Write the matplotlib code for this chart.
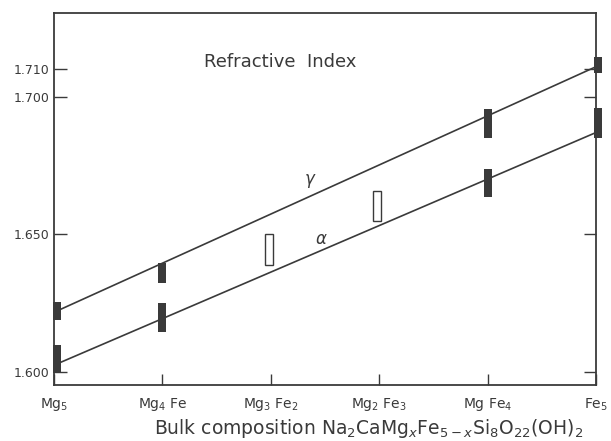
import matplotlib
matplotlib.use("Agg")
import matplotlib.pyplot as plt

# composition steps along the Mg-Fe join
compositions = ["Mg$_5$", "Mg$_4$ Fe", "Mg$_3$ Fe$_2$", "Mg$_2$ Fe$_3$", "Mg Fe$_4$", "Fe$_5$"]
positions = [0, 1, 2, 3, 4, 5]

# fitted trend lines (end members)
gamma_line = [1.6217, 1.7109]
alpha_line = [1.6025, 1.6870]

# measured ranges (solid bars): position, low, high
gamma_pos = [0.03, 1, 4, 5.02]
gamma_low = [1.6188, 1.6322, 1.6851, 1.7087]
gamma_high = [1.6254, 1.6395, 1.6957, 1.7145]

alpha_pos = [0.03, 1, 4, 5.02]
alpha_low = [1.5996, 1.6145, 1.6634, 1.6851]
alpha_high = [1.6098, 1.6250, 1.6739, 1.6960]

# intermediate samples (open bars)
open_pos = [1.98, 2.98]
open_low = [1.6387, 1.6547]
open_high = [1.6500, 1.6656]

yticks = [1.600, 1.650, 1.700, 1.710]
ytick_labels = ["1.600", "1.650", "1.700", "1.710"]

ink = "#3a3a3a"
plt.rcParams["font.family"] = ["DejaVu Sans"]

fig = plt.figure(figsize=(6.11, 4.41), dpi=100)
ax = fig.add_axes([0.0884, 0.127, 0.8871, 0.8435])

ax.plot([0, 5], gamma_line, color=ink, lw=1.2, zorder=2)
ax.plot([0, 5], alpha_line, color=ink, lw=1.2, zorder=2)

bar_w = 0.075
ax.bar(gamma_pos, [h - l for l, h in zip(gamma_low, gamma_high)], bottom=gamma_low,
       width=bar_w, color=ink, zorder=3, clip_on=False)
ax.bar(alpha_pos, [h - l for l, h in zip(alpha_low, alpha_high)], bottom=alpha_low,
       width=bar_w, color=ink, zorder=3, clip_on=False)
ax.bar(open_pos, [h - l for l, h in zip(open_low, open_high)], bottom=open_low,
       width=bar_w, facecolor="white", edgecolor=ink, lw=1.0, zorder=3)

ax.text(2.36, 1.6695, r"$\gamma$", fontsize=12, color=ink, ha="center", va="center")
ax.text(2.47, 1.6485, r"$\alpha$", fontsize=12, color=ink, ha="center", va="center")
ax.text(2.09, 1.7127, "Refractive  Index", fontsize=13, color=ink, ha="center", va="center")

ax.set_xlim(0, 5)
ax.set_ylim(1.5953, 1.7304)
ax.set_xticks(positions)
ax.set_xticklabels(compositions, fontsize=10, color=ink)
ax.set_yticks(yticks)
ax.set_yticklabels(ytick_labels, fontsize=9, color=ink)

ax.tick_params(axis="x", direction="in", length=8, width=1, color=ink, pad=8)
ax.tick_params(axis="y", direction="in", length=9, width=1, color=ink, pad=3, right=True)

for side in ax.spines.values():
    side.set_color(ink)
    side.set_linewidth(1.3)

ax.set_xlabel("Bulk composition Na$_2$CaMg$_x$Fe$_{5-x}$Si$_8$O$_{22}$(OH)$_2$",
              fontsize=13.5, color=ink, labelpad=2)
ax.xaxis.set_label_coords(0.58, -0.085)

fig.savefig("out.png", dpi=100, facecolor="white")
